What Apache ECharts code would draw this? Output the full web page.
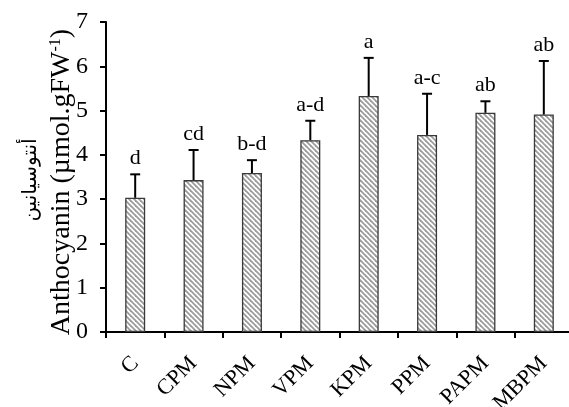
<!DOCTYPE html>
<html><head><meta charset="utf-8">
<script src="https://cdn.jsdelivr.net/npm/echarts@6/dist/echarts.min.js"></script>
</head><body style="margin:0;background:#fff">
<div id="c" style="width:569px;height:407px"></div>
<script>
const categories = ['C','CPM','NPM','VPM','KPM','PPM','PAPM','MBPM'];
const values = [3.03,3.43,3.59,4.33,5.33,4.45,4.95,4.91];
const errors = [0.53,0.68,0.29,0.44,0.86,0.93,0.26,1.21];
const letters = ['d','cd','b-d','a-d','a','a-c','ab','ab'];
const yMin = 0, yMax = 7, yInterval = 1;

// hatch pattern
const pc = document.createElement('canvas');
const S = 5;
pc.width = S; pc.height = S;
const g = pc.getContext('2d');
g.fillStyle = '#ffffff'; g.fillRect(0,0,S,S);
g.strokeStyle = '#9c9c9c'; g.lineWidth = 1.8;
for (let c = -S; c <= S; c += S) {
  g.beginPath(); g.moveTo(-1 + c, -1); g.lineTo(S + 1 + c, S + 1); g.stroke();
}

const chart = echarts.init(document.getElementById('c'));
const serif = '"Liberation Serif", "Times New Roman", serif';
chart.setOption({
  animation: false,
  grid: {left: 106, top: 22, width: 467, height: 310, containLabel: false, outerBoundsMode: 'none'},
  xAxis: {
    type: 'category', data: categories,
    axisLine: {lineStyle: {color: '#000', width: 2}},
    axisTick: {show: true, length: 6, lineStyle: {color: '#000', width: 2}},
    axisLabel: {rotate: 45, margin: 28, color: '#000', fontFamily: serif, fontSize: 22}
  },
  yAxis: {
    type: 'value', min: yMin, max: yMax, interval: yInterval,
    axisLine: {show: true, lineStyle: {color: '#000', width: 2}},
    axisTick: {show: true, length: 6, lineStyle: {color: '#000', width: 2}},
    splitLine: {show: false},
    axisLabel: {margin: 18, color: '#000', fontFamily: serif, fontSize: 24}
  },
  series: [
    {
      type: 'bar', data: values, barWidth: 20,
      itemStyle: {color: {image: pc, repeat: 'repeat'}, borderColor: '#3a3a3a', borderWidth: 1.3}
    },
    {
      type: 'custom', z: 5,
      data: categories.map((c, i) => [i, values[i], errors[i]]),
      encode: {x: 0, y: 1},
      renderItem: function (params, api) {
        const i = api.value(0), v = api.value(1), e = api.value(2);
        const p0 = api.coord([i, v]), p1 = api.coord([i, v + e]);
        return {type: 'group', children: [
          {type: 'line', shape: {x1: p0[0], y1: p0[1], x2: p1[0], y2: p1[1]}, style: {stroke: '#000', lineWidth: 2}},
          {type: 'line', shape: {x1: p1[0] - 5, y1: p1[1], x2: p1[0] + 5, y2: p1[1]}, style: {stroke: '#000', lineWidth: 2}},
          {type: 'text', x: p1[0], y: p1[1] - 5, style: {text: letters[params.dataIndex], fill: '#000', fontFamily: serif, fontSize: 22, align: 'center', verticalAlign: 'bottom'}}
        ]};
      }
    }
  ],
  graphic: [
    {type: 'text', x: 62, y: 182, rotation: Math.PI / 2,
      style: {text: 'Anthocyanin (µmol.gFW{s|-1})', fill: '#000', fontFamily: serif, fontSize: 28, align: 'center', verticalAlign: 'middle',
        rich: {s: {fontSize: 16, fontFamily: serif, verticalAlign: 'top', fill: '#000'}}}},
    {type: 'text', x: 31, y: 180, rotation: Math.PI / 2,
      style: {text: 'أنتوسيانين', fill: '#000', fontFamily: '"DejaVu Sans", sans-serif', fontSize: 20, align: 'center', verticalAlign: 'middle'}}
  ]
});
</script>
</body></html>
